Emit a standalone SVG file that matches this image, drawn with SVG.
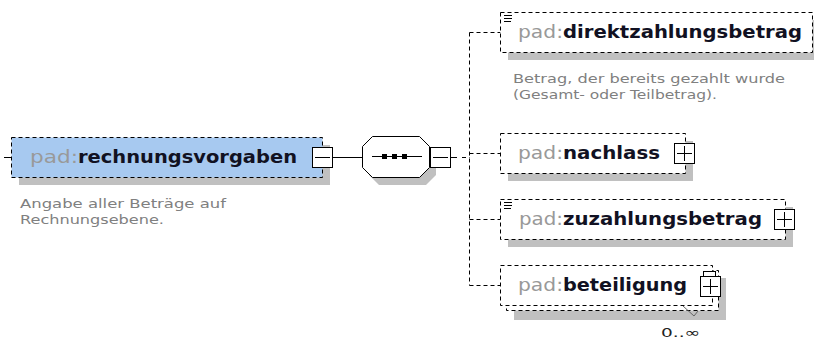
<svg xmlns="http://www.w3.org/2000/svg" width="814" height="345" viewBox="0 0 814 345">
<style>
.sh{fill:#c0c0c0}
.bx{fill:#ffffff;stroke:#000;stroke-width:1;stroke-dasharray:4,3}
.mb{fill:#a7c9f0;stroke:#000;stroke-width:1;stroke-dasharray:4,3}
.pm{fill:#ffffff;stroke:#000;stroke-width:1}
.ln{stroke:#000;stroke-width:1;fill:none}
.dl{stroke:#000;stroke-width:1;fill:none;stroke-dasharray:4,3}
.pf{font-family:"DejaVu Sans",Verdana,sans-serif;font-size:17px;fill:#999999}
.nm{font-family:"DejaVu Sans",Verdana,sans-serif;font-size:17px;font-weight:bold;fill:#111122}
.an{font-family:"DejaVu Sans",Verdana,sans-serif;font-size:12px;fill:#808080}
.oc{font-family:"DejaVu Sans",Verdana,sans-serif;font-size:13px;fill:#222222}
</style>
<g id="connectors">
<line class="ln" x1="4" y1="157.5" x2="11.5" y2="157.5"/>
<line class="ln" x1="332.5" y1="157.5" x2="362.5" y2="157.5"/>
<line class="ln" x1="450.5" y1="157.5" x2="457" y2="157.5"/>
<line class="dl" x1="462" y1="157.5" x2="469.5" y2="157.5"/>
<line class="dl" x1="469.5" y1="32.5" x2="469.5" y2="285.5"/>
<line class="dl" x1="469.5" y1="32.5" x2="500.5" y2="32.5"/>
<line class="dl" x1="469.5" y1="153.5" x2="500.5" y2="153.5"/>
<line class="dl" x1="469.5" y1="219.5" x2="500.5" y2="219.5"/>
<line class="dl" x1="469.5" y1="285.5" x2="500.5" y2="285.5"/>
</g>
<g id="rechnungsvorgaben">
<rect class="sh" x="19" y="145" width="311" height="40"/>
<rect class="mb" x="11.5" y="137.5" width="311" height="40"/>
<text class="pf" x="30" y="163" textLength="48" lengthAdjust="spacingAndGlyphs">pad:</text>
<text class="nm" x="78" y="163" textLength="219" lengthAdjust="spacingAndGlyphs">rechnungsvorgaben</text>
<rect class="pm" x="312.5" y="147.5" width="20" height="20"/>
<line class="ln" x1="315" y1="157.5" x2="330" y2="157.5"/>
<text class="an" x="20" y="208" textLength="206" lengthAdjust="spacingAndGlyphs">Angabe aller Beträge auf</text>
<text class="an" x="20" y="224" textLength="144" lengthAdjust="spacingAndGlyphs">Rechnungsebene.</text>
</g>
<g id="sequence">
<polygon class="sh" points="379,144 426,144 436,154 436,175 426,185 379,185 369,175 369,154"/>
<polygon class="pm" points="372.5,136.5 419.5,136.5 429.5,146.5 429.5,167.5 419.5,177.5 372.5,177.5 362.5,167.5 362.5,146.5"/>
<line class="ln" x1="372" y1="156.5" x2="422" y2="156.5"/>
<rect x="382" y="154" width="5" height="5" fill="#000"/>
<rect x="392" y="154" width="5" height="5" fill="#000"/>
<rect x="402" y="154" width="5" height="5" fill="#000"/>
<rect class="pm" x="430.5" y="147.5" width="20" height="20"/>
<line class="ln" x1="433" y1="157.5" x2="448" y2="157.5"/>
</g>
<g id="direktzahlungsbetrag">
<rect class="sh" x="508" y="20" width="312" height="40"/>
<rect class="bx" x="500.5" y="12.5" width="312" height="40"/>
<line class="ln" x1="504" y1="15.5" x2="512" y2="15.5"/>
<line class="ln" x1="504" y1="18.5" x2="512" y2="18.5"/>
<line class="ln" x1="504" y1="21.5" x2="511" y2="21.5"/>
<text class="pf" x="518" y="38" textLength="45" lengthAdjust="spacingAndGlyphs">pad:</text>
<text class="nm" x="563" y="38" textLength="239" lengthAdjust="spacingAndGlyphs">direktzahlungsbetrag</text>
<text class="an" x="513" y="83" textLength="272" lengthAdjust="spacingAndGlyphs">Betrag, der bereits gezahlt wurde</text>
<text class="an" x="513" y="99" textLength="204" lengthAdjust="spacingAndGlyphs">(Gesamt- oder Teilbetrag).</text>
</g>
<g id="nachlass">
<rect class="sh" x="508" y="141" width="185" height="40"/>
<rect class="bx" x="500.5" y="133.5" width="185" height="40"/>
<text class="pf" x="518" y="159" textLength="45" lengthAdjust="spacingAndGlyphs">pad:</text>
<text class="nm" x="563" y="159" textLength="97" lengthAdjust="spacingAndGlyphs">nachlass</text>
<rect class="pm" x="674.5" y="143.5" width="20" height="20"/>
<line class="ln" x1="677" y1="153.5" x2="692" y2="153.5"/>
<line class="ln" x1="684.5" y1="146" x2="684.5" y2="161"/>
</g>
<g id="zuzahlungsbetrag">
<rect class="sh" x="508" y="207" width="285" height="40"/>
<rect class="bx" x="500.5" y="199.5" width="285" height="40"/>
<line class="ln" x1="504" y1="202.5" x2="512" y2="202.5"/>
<line class="ln" x1="504" y1="205.5" x2="512" y2="205.5"/>
<line class="ln" x1="504" y1="208.5" x2="511" y2="208.5"/>
<text class="pf" x="519" y="225" textLength="44" lengthAdjust="spacingAndGlyphs">pad:</text>
<text class="nm" x="563" y="225" textLength="199" lengthAdjust="spacingAndGlyphs">zuzahlungsbetrag</text>
<rect class="pm" x="774.5" y="209.5" width="20" height="20"/>
<line class="ln" x1="777" y1="219.5" x2="792" y2="219.5"/>
<line class="ln" x1="784.5" y1="212" x2="784.5" y2="227"/>
</g>
<g id="beteiligung">
<rect class="sh" x="514" y="278" width="212" height="42"/>
<rect class="bx" x="506.5" y="270.5" width="212" height="40"/>
<rect class="bx" x="500.5" y="265.5" width="212" height="40"/>
<text class="pf" x="518" y="291" textLength="45" lengthAdjust="spacingAndGlyphs">pad:</text>
<text class="nm" x="563" y="291" textLength="124" lengthAdjust="spacingAndGlyphs">beteiligung</text>
<rect class="pm" x="703.5" y="271.5" width="12" height="10"/>
<rect class="pm" x="700.5" y="276.5" width="20" height="20"/>
<line class="ln" x1="703" y1="286.5" x2="718" y2="286.5"/>
<line class="ln" x1="710.5" y1="279" x2="710.5" y2="294"/>
<polyline points="683,306 694,316 698,311" fill="none" stroke="#666" stroke-width="1"/>
<text class="oc" x="661" y="337" textLength="39" lengthAdjust="spacingAndGlyphs">0..∞</text>
</g>
</svg>
